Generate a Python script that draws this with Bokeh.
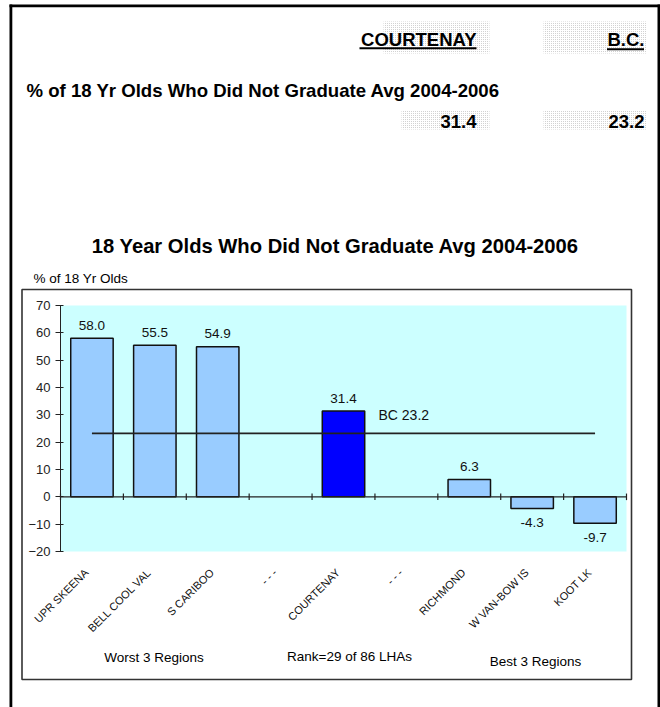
from math import pi
from bokeh.plotting import figure
from bokeh.models import ColumnDataSource, FixedTicker, LinearAxis, Range1d
from bokeh.core.properties import value
from bokeh.embed import file_html
from bokeh.resources import INLINE

# ---------------- data ----------------
regions = ["UPR SKEENA", "BELL COOL VAL", "S CARIBOO", "- - -", "COURTENAY",
           "- - -", "RICHMOND", "W VAN-BOW IS", "KOOT LK"]
values = [58.0, 55.5, 54.9, None, 31.4, None, 6.3, -4.3, -9.7]
highlight = "COURTENAY"
bc_value = 23.2
y_ticks = [-20, -10, 0, 10, 20, 30, 40, 50, 60, 70]
header_cols = ["COURTENAY", "B.C."]
header_vals = ["31.4", "23.2"]
row_label = "% of 18 Yr Olds Who Did Not Graduate Avg 2004-2006"
chart_title = "18 Year Olds Who Did Not Graduate Avg 2004-2006"
y_label = "% of 18 Yr Olds"
footer = ["Worst 3 Regions", "Rank=29 of 86 LHAs", "Best 3 Regions"]

# ---------------- layout ----------------
W, H = 660, 707
FL, FR, FT, FB = 60, 626, 305, 551          # plot-area edges in px
X0, X1 = 0, len(regions)
Y0, Y1 = y_ticks[0], y_ticks[-1]
FONT = "Liberation Sans"
sx = (X1 - X0) / (FR - FL)
sy = (Y1 - Y0) / (FB - FT)


def dx(px):
    return X0 + (px - FL) * sx


def dy(py):
    return Y1 - (py - FT) * sy


p = figure(width=W, height=H,
           x_range=Range1d(X0 - FL * sx, X1 + (W - FR) * sx),
           y_range=Range1d(Y0 - (H - FB) * sy, Y1 + FT * sy),
           output_backend="svg", toolbar_location=None, min_border=0,
           background_fill_color="white", border_fill_color="white",
           outline_line_color=None, x_axis_type=None, y_axis_type=None)
p.grid.visible = False

# plot-area background
p.quad(left=[X0], right=[X1], bottom=[Y0], top=[Y1], fill_color="#CCFFFF", line_color=None)

# y axis fixed at x = 0
yax = LinearAxis(fixed_location=X0, bounds=(Y0, Y1), ticker=FixedTicker(ticks=y_ticks),
                 major_tick_in=3, major_tick_out=5,
                 minor_tick_line_color=None, axis_line_color="#222",
                 major_tick_line_color="#222", major_label_text_font=FONT,
                 major_label_text_font_size="13px", major_label_text_color="#222",
                 major_label_standoff=5)
p.add_layout(yax, "left")

# x axis (category labels) fixed at bottom of plot area
centers = [i + 0.5 for i in range(len(regions))]
label_pos = [c - 0.09 for c in centers]
xax = LinearAxis(fixed_location=Y0, ticker=FixedTicker(ticks=label_pos),
                 major_label_overrides={c: r for c, r in zip(label_pos, regions)},
                 major_label_orientation=pi / 4, axis_line_color=None,
                 major_tick_line_color=None, minor_tick_line_color=None,
                 major_label_text_font=FONT, major_label_text_font_size="11px",
                 major_label_text_color="#111", major_label_standoff=13)
p.add_layout(xax, "below")

# bars
bx, bt, bcol, lab, off = [], [], [], [], []
for c, r, v in zip(centers, regions, values):
    if v is None:
        continue
    bx.append(c)
    bt.append(v)
    bcol.append("#0000FF" if r == highlight else "#99CCFF")
    lab.append(f"{v:.1f}")
    off.append(-13 if v >= 0 else 14)
src = ColumnDataSource(dict(x=bx, top=bt, color=bcol, label=lab, off=off))
p.vbar(x="x", top="top", bottom=0, width=0.675, fill_color="color",
       line_color="#111", line_width=1.5, source=src)

# zero line + ticks
p.segment(x0=[X0], x1=[X1], y0=[0], y1=[0], line_color="#222", line_width=1.2)
bounds = list(range(len(regions) + 1))
p.segment(x0=bounds, x1=bounds, y0=[-1.2] * len(bounds), y1=[1.2] * len(bounds),
          line_color="#222", line_width=1.2)

# BC average line
p.segment(x0=[centers[0]], x1=[centers[-1]], y0=[bc_value], y1=[bc_value],
          line_color="#222", line_width=1.8)
p.text(x=[dx(378)], y=[bc_value], text=[f"BC {bc_value}"], y_offset=-18,
       text_align="left", text_baseline="middle", text_font=value(FONT),
       text_font_size="14px", text_color="#111")

# value labels
p.text(x="x", y="top", text="label", y_offset="off", source=src,
       text_align="center", text_baseline="middle", text_font=value(FONT),
       text_font_size="13.5px", text_color="#111")


# ---------------- decorations outside the plot area ----------------
def rect(l, r, t, b, **kw):
    opts = dict(line_color=None, fill_color=None)
    opts.update(kw)
    p.quad(left=[dx(l)], right=[dx(r)], top=[dy(t)], bottom=[dy(b)], **opts)


def txt(x, y, s, align="left", size="13.5px", style="normal"):
    p.text(x=[dx(x)], y=[dy(y)], text=[s], text_align=align,
           text_baseline="middle", text_font=value(FONT),
           text_font_size=size, text_font_style=style, text_color="#000")


# stippled header cells
for (l, r, t, b) in [(383, 489, 21, 53), (543, 646, 21, 53),
                     (401, 489, 110, 129), (543, 646, 110, 129)]:
    rect(l, r, t, b, fill_color="white", fill_alpha=0, hatch_pattern="dot",
         hatch_color="#c4c4c4", hatch_scale=2, hatch_weight=1, hatch_alpha=1)

# outer border
rect(9, 11.8, 4, 707, fill_color="black")
rect(9, 659.5, 4, 6.7, fill_color="black")
rect(657, 659.5, 4, 707, fill_color="black")

# inner chart box
rect(21.5, 631, 289, 679, line_color="#333", line_width=1.6)

# header table
txt(476, 38.5, header_cols[0], align="right", size="18.5px", style="bold")
txt(644, 38.5, header_cols[1], align="right", size="18.5px", style="bold")
rect(359, 476, 46.7, 48.7, fill_color="black")
rect(606.5, 643.5, 47.7, 49.7, fill_color="black")
txt(26, 90.3, row_label, size="18.6px", style="bold")
txt(476, 120.5, header_vals[0], align="right", size="18.5px", style="bold")
txt(644, 120.5, header_vals[1], align="right", size="18.5px", style="bold")

# chart title and y label
txt(335, 245, chart_title, align="center", size="20.2px", style="bold")
txt(33, 277.7, y_label, size="13.5px")

# footer
txt(153.5, 656.7, footer[0], align="center")
txt(349, 656, footer[1], align="center")
txt(535, 661, footer[2], align="center")

open("out.html", "w").write(file_html(p, INLINE))
